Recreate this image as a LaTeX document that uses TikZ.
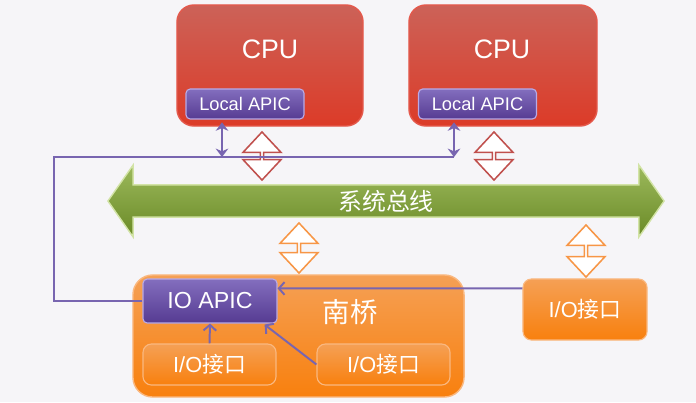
\documentclass[tikz,border=0pt]{standalone}
\usepackage{fontspec}
\setmainfont{Liberation Sans}
\newfontfamily\cjk{Noto Sans CJK SC}
\usetikzlibrary{arrows.meta,positioning,shapes.arrows,calc}
\definecolor{bgGray}{HTML}{F6F5F8}
\definecolor{cpuTop}{HTML}{CC6258}
\definecolor{cpuMid}{HTML}{B2372C}
\definecolor{cpuBot}{HTML}{DC3B28}
\definecolor{cpuEdge}{HTML}{E4594C}
\definecolor{apicTop}{HTML}{836EBE}
\definecolor{apicBot}{HTML}{563B92}
\definecolor{apicEdge}{HTML}{B8AAE6}
\definecolor{busTop}{HTML}{9CB95C}
\definecolor{busMid}{HTML}{789835}
\definecolor{busBot}{HTML}{6A8A26}
\definecolor{busEdge}{HTML}{D2E3A6}
\definecolor{orTop}{HTML}{F5A055}
\definecolor{orMid}{HTML}{EC8024}
\definecolor{orBot}{HTML}{F8800E}
\definecolor{orEdge}{HTML}{FAB880}
\definecolor{hollowRed}{HTML}{C0504D}
\definecolor{hollowOr}{HTML}{F79646}
\definecolor{wire}{HTML}{7865B0}

\begin{document}
\begin{tikzpicture}[x=0.025cm,y=-0.025cm]
  % Styles
  \tikzset{
    cpu/.style={draw=cpuEdge, line width=1pt, rounded corners=12pt, top color=cpuTop, middle color=cpuMid, bottom color=cpuBot, minimum height=3.025cm},
    cputext/.style={text=white, font=\fontsize{19}{22}\selectfont},
    lapic/.style={draw=apicEdge, line width=0.8pt, rounded corners=3pt, top color=apicTop, bottom color=apicBot, text=white, font=\fontsize{13}{15}\selectfont, minimum width=2.95cm, minimum height=0.75cm, inner sep=1pt},
    ioapic/.style={lapic, font=\fontsize{16.5}{19}\selectfont, minimum width=3.35cm, minimum height=1.1cm},
    bridge/.style={draw=orEdge, line width=1pt, rounded corners=14pt, top color=orTop, middle color=orMid, bottom color=orBot, minimum width=8.275cm, minimum height=3.05cm},
    iobox/.style={draw=orEdge, line width=0.8pt, rounded corners=6pt, top color=orTop, middle color=orMid, bottom color=orBot, text=white, font=\fontsize{15.5}{18}\selectfont, minimum width=3.325cm, minimum height=1.025cm, inner sep=1pt},
    busarrow/.style={double arrow, draw=busEdge, line width=1pt, top color=busTop, middle color=busMid, bottom color=busBot, text=white, font=\fontsize{17}{20}\selectfont, minimum width=1.8cm, minimum height=13.9cm, double arrow head extend=0.3625cm, double arrow tip angle=110, inner sep=0pt},
    hollow/.style={double arrow, fill=white, line width=1.1pt, shape border rotate=90, minimum width=0.95cm, minimum height=1.2cm, double arrow head extend=0.2cm, double arrow tip angle=86, inner sep=0pt},
    apicboth/.style={{Stealth[length=6pt,width=9pt]}-{Stealth[length=6pt,width=9pt]}, line width=2pt, draw=wire},
    apicline/.style={line width=1.4pt, draw=wire},
    sig/.style={-{Straight Barb[length=4pt,width=9pt]}, line width=1.4pt, draw=wire},
  }

  \fill[bgGray] (0,0) rectangle (696,402);

  % CPUs
  \node[cpu, minimum width=4.65cm] (cpuA) at (270,65.5) {};
  \node[cpu, minimum width=4.7cm]  (cpuB) at (503,65.5) {};
  \node[cputext] (cpuAtxt) at (270,49) {CPU};
  \node[cputext] (cpuBtxt) at (502,49) {CPU};
  \node[lapic] (lapicA) at (245,104)   {Local APIC};
  \node[lapic] (lapicB) at (477.5,104) {Local APIC};

  % System bus
  \node[busarrow] (bus) at (386,201) {\cjk 系统总线};

  % Hollow links
  \node[hollow, draw=hollowRed] (linkA) at (262,156) {};
  \node[hollow, draw=hollowRed] (linkB) at (494,156) {};
  \node[hollow, draw=hollowOr, minimum height=1.25cm] (linkC) at (299,248) {};
  \node[hollow, draw=hollowOr, minimum height=1.3cm]  (linkD) at (586,251) {};

  % South bridge
  \node[bridge] (sb) at (298.5,336) {};
  \node[cputext, font=\cjk\fontsize{19.5}{22}\selectfont] (sbtxt) at (350,312) {南桥};
  \node[ioapic] (ioapic) at (210,301) {IO APIC};
  \node[iobox] (ioL) at (209.5,364.5) {I/O{\cjk 接口}};
  \node[iobox] (ioR) at (383.5,364.5) {I/O{\cjk 接口}};
  \node[iobox, minimum width=3.1cm, minimum height=1.525cm] (ioX) at (585,309.5) {I/O{\cjk 接口}};

  % APIC wiring
  \coordinate (tapA) at (222,157);
  \coordinate (tapB) at (454,157);
  \coordinate (bend) at (54,157);
  \draw[apicboth, shorten <=2pt] (lapicA.south -| tapA) -- (tapA);
  \draw[apicboth, shorten <=2pt] (lapicB.south -| tapB) -- (tapB);
  \draw[apicline] (tapB) -- (bend) |- (ioapic.west);
  \draw[sig] ($(ioX.north west)+(0,10)$) -- ($(ioapic.north east)+(0,10)$);
  \draw[sig] (ioL.north) -- (ioapic.south);
  \draw[sig] (ioR.west) -- ($(ioapic.south east)+(-13,1)$);
\end{tikzpicture}
\end{document}
